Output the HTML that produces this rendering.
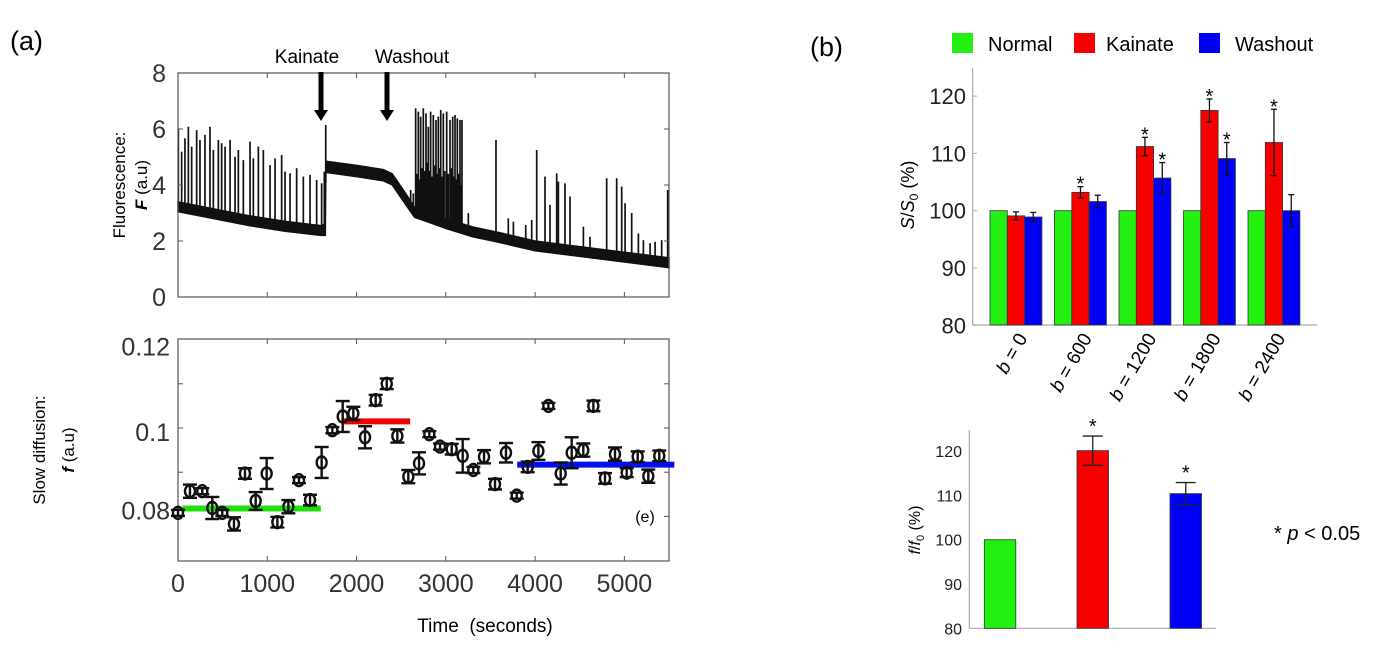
<!DOCTYPE html>
<html><head><meta charset="utf-8"><style>
html,body{margin:0;padding:0;background:#fff;}
svg{display:block;font-family:"Liberation Sans",sans-serif;}
</style></head><body>
<svg id="fig" width="1400" height="650" viewBox="0 0 1400 650">
<text x="10" y="50" font-size="27">(a)</text>
<text x="810" y="56" font-size="27">(b)</text>
<g id="topchart"></g>
<g id="botchart"></g>
<g id="bar1"></g>
<g id="bar2"></g>
</svg>
<script>
// ---- Fluorescence trace data ----
const baseT  = [0,400,800,1200,1600,1650,1656,2000,2300,2400,2550,2650,3000,3300,3600,4000,4500,5000,5500];
const baseHi = [3.4,3.15,2.9,2.7,2.55,2.6,4.85,4.7,4.55,4.4,3.7,3.2,2.8,2.5,2.3,2.0,1.8,1.6,1.4];
const baseLo = [3.05,2.8,2.55,2.35,2.2,2.2,4.45,4.3,4.15,4.0,3.3,2.85,2.45,2.15,1.95,1.65,1.45,1.25,1.05];
const spikeT = [4,41,78,116,153,209,246,302,358,396,452,489,527,583,639,676,732,807,844,900,956,1031,1087,1161,1199,1255,1329,1404,1479,1553,1609,1639,1655,
 2606,2636,2662,2677,2692,2705,2718,2733,2748,2763,2778,2791,2804,2817,2830,2845,2860,2875,2890,2903,2916,2930,2943,2958,2972,2990,3010,3028,3047,3062,3077,3090,3103,3116,3129,3144,3159,3170,3181,
 3252,3562,3700,3757,3895,3962,4018,4111,4167,4242,4261,4335,4391,4541,4615,4802,4914,4970,5008,5082,5157,5213,5288,5344,5418,5485];
const spikeF = [6.02,5.19,5.67,6.08,5.37,5.96,5.61,5.79,6.08,5.25,5.61,5.49,5.37,5.61,5.01,5.25,4.89,5.55,4.95,5.37,5.25,4.71,4.95,5.07,4.48,4.42,4.60,4.30,4.36,4.18,4.06,4.48,6.14,
 3.82,3.7,6.74,4.4,6.62,4.2,6.44,4.6,6.74,4.5,6.56,4.8,6.08,4.5,6.62,4.3,6.50,4.7,6.32,4.4,6.44,4.6,6.68,4.3,6.56,4.5,6.62,4.4,6.32,4.6,6.44,4.3,6.50,4.2,6.38,4.4,6.32,4.0,6.32,
 3.0,5.61,2.81,2.69,2.57,2.75,5.25,4.30,3.29,4.42,4.12,4.06,3.59,2.51,2.15,4.24,4.24,3.94,3.35,3.0,2.27,2.03,1.92,1.97,2.03,3.82];
const topTicks = [0,2,4,6,8];
const xTicks = [0,1000,2000,3000,4000,5000];
// ---- Slow diffusion data ----
const fT = [0,134,272,384,496,627,750,870,993,1113,1236,1355,1479,1609,1729,1845,1964,2095,2214,2338,2457,2580,2700,2815,2935,3066,3189,3308,3428,3551,3674,3794,3917,4037,4149,4287,4410,4540,4653,4783,4895,5026,5149,5268,5391];
const fV = [0.0808,0.0857,0.0857,0.0819,0.0808,0.0783,0.0897,0.0835,0.0897,0.0787,0.0822,0.0882,0.0837,0.0922,0.0995,0.1026,0.1033,0.0979,0.1063,0.1100,0.0982,0.0890,0.0920,0.0986,0.0958,0.0952,0.0937,0.0905,0.0935,0.0873,0.0944,0.0847,0.0912,0.0948,0.1050,0.0897,0.0944,0.0950,0.1050,0.0886,0.0941,0.0899,0.0935,0.0891,0.0937];
const fE = [0.0005,0.0015,0.0005,0.0025,0.0007,0.0015,0.0012,0.002,0.0035,0.0012,0.0015,0.0005,0.0012,0.0035,0.0007,0.0035,0.0015,0.0025,0.0012,0.0012,0.0015,0.0015,0.0025,0.0005,0.0007,0.0012,0.0038,0.0007,0.0015,0.0012,0.0022,0.0005,0.0012,0.002,0.0003,0.0025,0.0035,0.0015,0.0012,0.0012,0.0015,0.001,0.0012,0.0015,0.0012];
const meanStart = [50,1840,3800];
const meanEnd = [1600,2600,5560];
const meanVal = [0.0818,0.1015,0.0917];
const meanColor = ['#22e010','#f00000','#0010f0'];
const botTicks = [0.08,0.1,0.12];
// ---- Bar chart 1 ----
const bCats = ['b = 0','b = 600','b = 1200','b = 1800','b = 2400'];
const normalV = [100,100,100,100,100];
const kainateV = [99.1,103.2,111.2,117.5,111.9];
const kainateE = [0.7,1.0,1.6,2.0,5.8];
const washV = [98.9,101.6,105.7,109.1,100.0];
const washE = [0.8,1.1,2.7,2.8,2.8];
const kainateSig = [false,true,true,true,true];
const washSig = [false,false,true,true,false];
const bar1Ticks = [80,90,100,110,120];
// ---- Bar chart 2 ----
const f2V = [100,120.1,110.4];
const f2E = [0,3.3,2.5];
const f2Sig = [false,true,true];
const bar2Ticks = [80,90,100,110,120];
const barColors = ['#22f010','#f80000','#0000f8'];

const NS='http://www.w3.org/2000/svg';
function mk(parent,tag,attrs,text){const e=document.createElementNS(NS,tag);for(const k in attrs)e.setAttribute(k,attrs[k]);if(text!==undefined)e.textContent=text;parent.appendChild(e);return e;}

// ===== Top chart =====
const topG=document.getElementById('topchart');
const tx=t=>178+t*(491/5500);
const ty=f=>297-f*28;
let pts=baseT.map((t,i)=>tx(t)+','+ty(baseHi[i])).concat(baseT.slice().reverse().map((t,j)=>{const i=baseT.length-1-j;return tx(t)+','+ty(baseLo[i]);}));
let band=mk(topG,'polygon',{points:pts.join(' '),fill:'#111',stroke:'#111','stroke-width':1.5});


function interp(arr,t){for(let i=0;i<baseT.length-1;i++){if(t>=baseT[i]&&t<=baseT[i+1]){const r=(t-baseT[i])/(baseT[i+1]-baseT[i]);return arr[i]+r*(arr[i+1]-arr[i]);}}return arr[arr.length-1];}
spikeT.forEach((t,i)=>{const l=mk(topG,'line',{x1:tx(t),x2:tx(t),y1:ty(interp(baseLo,t)),y2:ty(spikeF[i]),stroke:'#111','stroke-width':1.7});

});
mk(topG,'rect',{x:178,y:73,width:491,height:224,fill:'none',stroke:'#555','stroke-width':1.2,});
topTicks.forEach(v=>{mk(topG,'line',{x1:178,x2:183,y1:ty(v),y2:ty(v),stroke:'#555'});mk(topG,'line',{x1:664,x2:669,y1:ty(v),y2:ty(v),stroke:'#555'});
const tl=mk(topG,'text',{x:166,y:ty(v)+9,'font-size':25,'text-anchor':'end',fill:'#333'},String(v));

});
xTicks.forEach(v=>{mk(topG,'line',{x1:tx(v),x2:tx(v),y1:73,y2:78,stroke:'#555'});mk(topG,'line',{x1:tx(v),x2:tx(v),y1:292,y2:297,stroke:'#555'});});
mk(topG,'text',{transform:'translate(125,185) rotate(-90)','font-size':17,'text-anchor':'middle',},'Fluorescence:');
const t2=mk(topG,'text',{transform:'translate(147,185) rotate(-90)','font-size':17,'text-anchor':'middle',});
mk(t2,'tspan',{'font-weight':'bold','font-style':'italic'},'F');mk(t2,'tspan',{},' (a.u)');
mk(topG,'text',{x:307,y:63,'font-size':19,'text-anchor':'middle',},'Kainate');
mk(topG,'text',{x:412,y:63,'font-size':19,'text-anchor':'middle',},'Washout');
[[321,'kainate-arrow'],[387,'washout-arrow']].forEach(([x,n])=>{const g=mk(topG,'g',{});
mk(g,'line',{x1:x,x2:x,y1:72,y2:112,stroke:'#000','stroke-width':5});mk(g,'polygon',{points:`${x-7},110 ${x+7},110 ${x},121`,fill:'#000'});});

// ===== Bottom chart =====
const botG=document.getElementById('botchart');
const by=v=>428-(v-0.1)*4420;
mk(botG,'rect',{x:178,y:339,width:491,height:222,fill:'none',stroke:'#555','stroke-width':1.2,});
[0.08,0.09,0.1,0.11].forEach(v=>{mk(botG,'line',{x1:178,x2:183,y1:by(v),y2:by(v),stroke:'#555'});mk(botG,'line',{x1:664,x2:669,y1:by(v),y2:by(v),stroke:'#555'});});
xTicks.forEach(v=>{mk(botG,'line',{x1:tx(v),x2:tx(v),y1:339,y2:344,stroke:'#555'});mk(botG,'line',{x1:tx(v),x2:tx(v),y1:556,y2:561,stroke:'#555'});
const l=mk(botG,'text',{x:tx(v),y:592,'font-size':25,'text-anchor':'middle',fill:'#333'},String(v));

});
botTicks.forEach(v=>{const l=mk(botG,'text',{x:170,y:by(v)+9+(v===0.12?7:v===0.08?-6:4),'font-size':25,'text-anchor':'end',fill:'#333'},String(v));

});
mk(botG,'text',{transform:'translate(45,450) rotate(-90)','font-size':17,'text-anchor':'middle',},'Slow diffusion:');
const t3=mk(botG,'text',{transform:'translate(74,450) rotate(-90)','font-size':17,'text-anchor':'middle',});
mk(t3,'tspan',{'font-weight':'bold','font-style':'italic'},'f');mk(t3,'tspan',{},' (a.u)');
mk(botG,'text',{x:485,y:632,'font-size':19,'text-anchor':'middle',},'Time\u00a0 (seconds)');
mk(botG,'text',{x:645,y:522,'font-size':16,'text-anchor':'middle',},'(e)');
meanVal.forEach((v,i)=>{const l=mk(botG,'line',{x1:tx(meanStart[i]),x2:tx(meanEnd[i]),y1:by(v),y2:by(v),stroke:meanColor[i],'stroke-width':6});

});
fT.forEach((t,i)=>{const x=tx(t),y=by(fV[i]),e=Math.max(fE[i]*4420,3);
const g=mk(botG,'g',{stroke:'#111','stroke-width':2.4,fill:'none'});


mk(g,'line',{x1:x,x2:x,y1:y-e,y2:y+e});mk(g,'line',{x1:x-7,x2:x+7,y1:y-e,y2:y-e});mk(g,'line',{x1:x-7,x2:x+7,y1:y+e,y2:y+e});
mk(g,'ellipse',{cx:x,cy:y,rx:5,ry:6});});

// ===== Bar chart 1 =====
const b1G=document.getElementById('bar1');
const y1s=v=>210.7-(v-100)*5.73;
const g0=990, gs=64.5, bw=17.3;
mk(b1G,'line',{x1:972.7,x2:972.7,y1:68,y2:325,stroke:'#aaa','stroke-width':1.2});
mk(b1G,'line',{x1:972.7,x2:1317,y1:325,y2:325,stroke:'#aaa','stroke-width':1.2});
bar1Ticks.forEach(v=>{mk(b1G,'line',{x1:972.7,x2:977,y1:y1s(v),y2:y1s(v),stroke:'#aaa'});
const l=mk(b1G,'text',{x:966,y:y1s(v)+8,'font-size':22,'text-anchor':'end',fill:'#222'},String(v));

});
const series=[normalV,kainateV,washV], errs=[null,kainateE,washE], sigs=[null,kainateSig,washSig];
bCats.forEach((c,i)=>{series.forEach((s,k)=>{const x=g0+i*gs+k*bw;
const r=mk(b1G,'rect',{x:x,y:y1s(s[i]),width:bw,height:325-y1s(s[i]),fill:barColors[k],stroke:'#333','stroke-width':0.8});


if(errs[k]){const cx=x+bw/2,e=errs[k][i]*5.73,yy=y1s(s[i]);
mk(b1G,'line',{x1:cx,x2:cx,y1:yy-e,y2:yy+e,stroke:'#111','stroke-width':1.3});
mk(b1G,'line',{x1:cx-3,x2:cx+3,y1:yy-e,y2:yy-e,stroke:'#111','stroke-width':1.3});
mk(b1G,'line',{x1:cx-3,x2:cx+3,y1:yy+e,y2:yy+e,stroke:'#111','stroke-width':1.3});
if(sigs[k][i]){const st=mk(b1G,'text',{x:cx,y:yy-e+4,'font-size':20,'text-anchor':'middle'},'*');

}}});
const cx=g0+i*gs+bw*1.5;
const lab=mk(b1G,'text',{transform:`translate(${cx+12},338) rotate(-60)`,'font-size':19,'text-anchor':'end'});


mk(lab,'tspan',{'font-style':'italic'},'b');mk(lab,'tspan',{},c.slice(1));});
mk(b1G,'text',{transform:'translate(914,195) rotate(-90)','font-size':18,'text-anchor':'middle',}).innerHTML='<tspan font-style="italic">S</tspan>/<tspan font-style="italic">S</tspan><tspan font-size="12" dy="4">0</tspan><tspan dy="-4"> (%)</tspan>';
[['Normal',952,988],['Kainate',1074,1106],['Washout',1199,1235]].forEach(([n,sx,lx],k)=>{const g=mk(b1G,'g',{});
mk(g,'rect',{x:sx,y:33,width:21,height:20,fill:barColors[k]});mk(g,'text',{x:lx,y:51,'font-size':20},n);});

// ===== Bar chart 2 =====
const b2G=document.getElementById('bar2');
const y2s=v=>628.3-(v-80)*4.43;
const x2pos=[984.3,1077,1170], bw2=31.5;
mk(b2G,'line',{x1:969.3,x2:969.3,y1:430,y2:628.3,stroke:'#aaa','stroke-width':1.2});
mk(b2G,'line',{x1:969.3,x2:1216,y1:628.3,y2:628.3,stroke:'#aaa','stroke-width':1.2});
bar2Ticks.forEach(v=>{const l=mk(b2G,'text',{x:962,y:y2s(v)+6,'font-size':16,'text-anchor':'end',fill:'#222'},String(v));

});
f2V.forEach((v,k)=>{const r=mk(b2G,'rect',{x:x2pos[k],y:y2s(v),width:bw2,height:628.3-y2s(v),fill:barColors[k],stroke:'#333','stroke-width':0.8});


if(f2E[k]>0){const cx=x2pos[k]+bw2/2,e=f2E[k]*4.43,yy=y2s(v);
mk(b2G,'line',{x1:cx,x2:cx,y1:yy-e,y2:yy+e,stroke:'#222','stroke-width':1.3});
mk(b2G,'line',{x1:cx-10,x2:cx+10,y1:yy-e,y2:yy-e,stroke:'#222','stroke-width':1.3});
mk(b2G,'line',{x1:cx-10,x2:cx+10,y1:yy+e,y2:yy+e,stroke:'#222','stroke-width':1.3});
if(f2Sig[k]){const st=mk(b2G,'text',{x:cx,y:yy-e-3,'font-size':20,'text-anchor':'middle'},'*');

}}});
mk(b2G,'text',{transform:'translate(920,530) rotate(-90)','font-size':16,'text-anchor':'middle',}).innerHTML='<tspan font-style="italic">f</tspan>/<tspan font-style="italic">f</tspan><tspan font-size="11" dy="4">0</tspan><tspan dy="-4"> (%)</tspan>';
mk(b2G,'text',{x:1274,y:540,'font-size':20,}).innerHTML='*  <tspan font-style="italic">p</tspan> &lt; 0.05';
</script>
</body></html>
